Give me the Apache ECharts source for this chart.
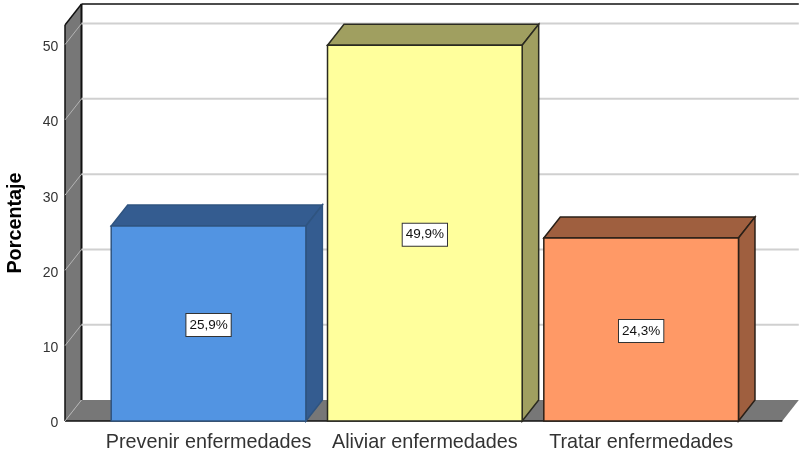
<!DOCTYPE html>
<html>
<head>
<meta charset="utf-8">
<style>
  html, body { margin: 0; padding: 0; background: #fff; }
  #main { width: 799px; height: 456px; }
</style>
<script src="https://cdn.jsdelivr.net/npm/echarts@6/dist/echarts.min.js"></script>
</head>
<body>
<div id="main"></div>
<script>
  const categories = ['Prevenir enfermedades', 'Aliviar enfermedades', 'Tratar enfermedades']
  const percentages = [25.9, 49.9, 24.3]
  const percentLabels = ['25,9%', '49,9%', '24,3%']
  const gridTicks = [0, 10, 20, 30, 40, 50]

  // front face, darker side, edge
  const barColors = ['#5294e2', '#ffff9c', '#ff9966']
  const sideColors = ['#345c90', '#a09f60', '#9f5f3f']
  const edgeColors = ['#2f5480', '#2a2a20', '#2a2018']

  const depthX = 16.5
  const depthY = -21
  const wallGap = 35.4    // front of the axis sits left of the first category band
  const rightGap = 33

  const chart = echarts.init(document.getElementById('main'))

  // ---- walls and floor of the 3D box ----
  function renderFrame (params, api) {
    const cs = params.coordSys
    const left = cs.x - wallGap
    const right = cs.x + cs.width + rightGap
    const top = cs.y
    const bottom = cs.y + cs.height
    const wallColor = '#777777'
    return {
      type: 'group',
      children: [
        { type: 'polygon', shape: { points: [[left, top], [left + depthX, top + depthY], [left + depthX, bottom + depthY], [left, bottom]] }, style: { fill: wallColor } },
        { type: 'polygon', shape: { points: [[left, bottom], [left + depthX, bottom + depthY], [right + depthX, bottom + depthY], [right, bottom]] }, style: { fill: wallColor } },
        { type: 'line', shape: { x1: left, y1: top, x2: left + depthX, y2: top + depthY }, style: { stroke: '#111', lineWidth: 1.5 } },
        { type: 'line', shape: { x1: left, y1: top, x2: left, y2: bottom }, style: { stroke: '#111', lineWidth: 1.5 } },
        { type: 'line', shape: { x1: left + depthX, y1: top + depthY, x2: left + depthX, y2: bottom + depthY }, style: { stroke: '#111', lineWidth: 2 } },
        { type: 'line', shape: { x1: left + depthX, y1: top + depthY, x2: right + depthX, y2: top + depthY }, style: { stroke: '#111', lineWidth: 1.5 } },
        { type: 'line', shape: { x1: left, y1: bottom, x2: right, y2: bottom }, style: { stroke: '#111', lineWidth: 1.5 } }
      ]
    }
  }

  // ---- grid lines on the back wall, running down the side wall ----
  function renderGridLine (params, api) {
    const cs = params.coordSys
    const y = api.coord([0, api.value(0)])[1]
    const left = cs.x - wallGap
    const right = cs.x + cs.width + rightGap
    const children = [
      { type: 'line', shape: { x1: left, y1: y, x2: left + depthX, y2: y + depthY }, style: { stroke: '#b4b4b4', lineWidth: 1 } }
    ]
    if (api.value(0) > 0) {
      children.push({ type: 'line', shape: { x1: left + depthX, y1: y + depthY, x2: right + depthX, y2: y + depthY }, style: { stroke: '#d0d0d0', lineWidth: 2 } })
    }
    return { type: 'group', children: children }
  }

  // ---- 3D bar: front, top, side, value box ----
  function renderBar (params, api) {
    const i = params.dataIndex
    const topCenter = api.coord([i, api.value(1)])
    const base = api.coord([i, 0])
    const w = api.size([1, 0])[0] * 0.9
    const x0 = topCenter[0] - w / 2
    const x1 = topCenter[0] + w / 2
    const yTop = topCenter[1]
    const yBase = base[1]
    const edge = { stroke: edgeColors[i], lineWidth: 1.5 }
    return {
      type: 'group',
      children: [
        { type: 'polygon', shape: { points: [[x0, yTop], [x0 + depthX, yTop + depthY], [x1 + depthX, yTop + depthY], [x1, yTop]] }, style: Object.assign({ fill: sideColors[i] }, edge) },
        { type: 'polygon', shape: { points: [[x1, yTop], [x1 + depthX, yTop + depthY], [x1 + depthX, yBase + depthY], [x1, yBase]] }, style: Object.assign({ fill: sideColors[i] }, edge) },
        { type: 'rect', shape: { x: x0, y: yTop, width: w, height: yBase - yTop }, style: Object.assign({ fill: barColors[i] }, edge) },
        {
          type: 'text',
          x: topCenter[0],
          y: (yTop + yBase) / 2 + 1.5,
          style: {
            text: percentLabels[i],
            align: 'center',
            verticalAlign: 'middle',
            fill: '#111',
            font: '13.5px "Liberation Sans", Arial, sans-serif',
            backgroundColor: '#fff',
            borderColor: '#333',
            borderWidth: 1,
            padding: [4, 3, 4, 3]
          }
        }
      ]
    }
  }

  chart.setOption({
    animation: false,
    backgroundColor: '#fff',
    textStyle: { fontFamily: '"Liberation Sans", Arial, sans-serif' },
    grid: { left: 100.4, top: 25, width: 648.9, height: 396, outerBoundsMode: 'none' },
    xAxis: {
      type: 'category',
      data: categories,
      axisLine: { show: false },
      axisTick: { show: false },
      axisLabel: { color: '#333', fontSize: 19.8, margin: 12, interval: 0 }
    },
    yAxis: {
      type: 'value',
      min: 0,
      max: 52.6,
      interval: 10,
      name: 'Porcentaje',
      nameLocation: 'middle',
      nameGap: 75,
      nameTextStyle: { color: '#000', fontSize: 19.8, fontWeight: 'bold' },
      axisLine: { show: false },
      axisTick: { show: false },
      splitLine: { show: false },
      axisLabel: { color: '#333', fontSize: 14, margin: 42, showMaxLabel: false, verticalAlign: 'top', lineHeight: 5 }
    },
    series: [
      {
        type: 'custom',
        z: 1,
        renderItem: renderFrame,
        data: [0],
        silent: true
      },
      {
        type: 'custom',
        z: 2,
        renderItem: renderGridLine,
        encode: { y: 0 },
        data: gridTicks.map(function (t) { return [t] }),
        silent: true
      },
      {
        type: 'custom',
        z: 3,
        renderItem: renderBar,
        encode: { x: 0, y: 1 },
        data: percentages.map(function (v, i) { return [i, v] })
      }
    ]
  })
</script>
</body>
</html>
